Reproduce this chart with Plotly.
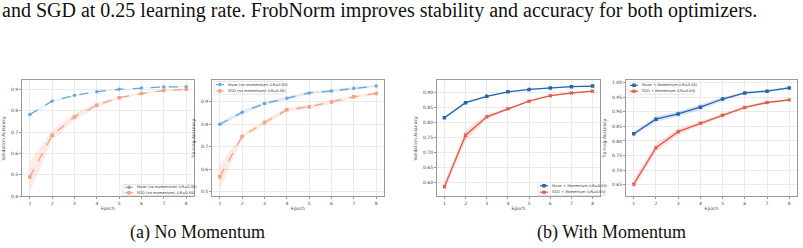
import plotly.graph_objects as go

W, H = 803, 248

epochs = [1, 2, 3, 4, 5, 6, 7, 8]

# (a) No momentum - validation
muon_val_nm = [0.782, 0.845, 0.872, 0.889, 0.900, 0.906, 0.911, 0.912]
muon_val_nm_sd = [0.004, 0.003, 0.003, 0.002, 0.002, 0.002, 0.002, 0.002]
sgd_val_nm = [0.490, 0.685, 0.771, 0.826, 0.861, 0.880, 0.894, 0.900]
sgd_val_nm_sd = [0.072, 0.024, 0.016, 0.011, 0.006, 0.005, 0.004, 0.003]

# (a) No momentum - training
muon_tr_nm = [0.800, 0.853, 0.892, 0.916, 0.939, 0.948, 0.960, 0.970]
muon_tr_nm_sd = [0.008, 0.008, 0.007, 0.007, 0.006, 0.006, 0.005, 0.005]
sgd_tr_nm = [0.567, 0.746, 0.808, 0.864, 0.878, 0.899, 0.922, 0.937]
sgd_tr_nm_sd = [0.055, 0.008, 0.011, 0.009, 0.009, 0.010, 0.006, 0.006]

# (b) With momentum - validation
muon_val_m = [0.815, 0.865, 0.886, 0.901, 0.909, 0.914, 0.918, 0.920]
muon_val_m_sd = [0.005, 0.004, 0.003, 0.002, 0.002, 0.002, 0.002, 0.002]
sgd_val_m = [0.586, 0.757, 0.818, 0.845, 0.870, 0.888, 0.897, 0.903]
sgd_val_m_sd = [0.014, 0.018, 0.008, 0.004, 0.003, 0.003, 0.002, 0.002]

# (b) With momentum - training
muon_tr_m = [0.825, 0.875, 0.893, 0.916, 0.944, 0.965, 0.971, 0.982]
muon_tr_m_sd = [0.007, 0.010, 0.008, 0.010, 0.006, 0.005, 0.005, 0.004]
sgd_tr_m = [0.652, 0.777, 0.832, 0.861, 0.888, 0.915, 0.932, 0.941]
sgd_tr_m_sd = [0.016, 0.014, 0.011, 0.007, 0.006, 0.005, 0.004, 0.004]

yticks_a_val = [0.4, 0.5, 0.6, 0.7, 0.8, 0.9]
yticks_a_tr = [0.5, 0.6, 0.7, 0.8, 0.9]
yticks_b_val = [0.60, 0.65, 0.70, 0.75, 0.80, 0.85, 0.90]
yticks_b_tr = [0.65, 0.70, 0.75, 0.80, 0.85, 0.90, 0.95, 1.00]

names_nm = ["Muon (no momentum) (LR=0.05)", "SGD (no momentum) (LR=0.05)"]
names_m = ["Muon + Momentum (LR=0.05)", "SGD + Momentum (LR=0.05)"]

FONT = "DejaVu Sans"
TXT = "#444444"
GRID = "#ebebeb"
SPINE = "#9a9a9a"

# panel boxes in pixels: (x0, x1, y0_top, y1_bottom)
panels = [
    (22, 194, 81, 198),
    (212, 384, 81, 198),
    (437, 600, 81, 198),
    (626, 797, 81, 198),
]
yranges = [[0.399, 0.942], [0.48, 0.995], [0.554, 0.939], [0.610, 1.008]]
ytickvals = [yticks_a_val, yticks_a_tr, yticks_b_val, yticks_b_tr]
ytitles = ["Validation Accuracy", "Training Accuracy", "Validation Accuracy", "Training Accuracy"]
ytickfmt = [".1f", ".1f", ".2f", ".2f"]

series = [
    [(muon_val_nm, muon_val_nm_sd), (sgd_val_nm, sgd_val_nm_sd)],
    [(muon_tr_nm, muon_tr_nm_sd), (sgd_tr_nm, sgd_tr_nm_sd)],
    [(muon_val_m, muon_val_m_sd), (sgd_val_m, sgd_val_m_sd)],
    [(muon_tr_m, muon_tr_m_sd), (sgd_tr_m, sgd_tr_m_sd)],
]
colors_nm = ["#6aa6d8", "#f5a184"]
colors_m = ["#2566b0", "#df5a48"]
fills_nm = ["rgba(106,166,216,0.22)", "rgba(245,161,132,0.20)"]
fills_m = ["rgba(37,102,176,0.18)", "rgba(223,90,72,0.18)"]

fig = go.Figure()
layout = {}

for i, (x0, x1, yt, yb) in enumerate(panels):
    k = "" if i == 0 else str(i + 1)
    xa, ya = "x" + k, "y" + k
    nm = i < 2
    cols = colors_nm if nm else colors_m
    fills = fills_nm if nm else fills_m
    names = names_nm if nm else names_m
    symbols = ["circle", "square"] if nm else ["square", "x"]
    dash = "dash" if nm else "solid"
    for j, (vals, sd) in enumerate(series[i]):
        lo = [v - s for v, s in zip(vals, sd)]
        hi = [v + s for v, s in zip(vals, sd)]
        fig.add_trace(go.Scatter(x=epochs, y=lo, xaxis=xa, yaxis=ya, mode="lines",
                                 line=dict(width=0), showlegend=False, hoverinfo="skip"))
        fig.add_trace(go.Scatter(x=epochs, y=hi, xaxis=xa, yaxis=ya, mode="lines",
                                 line=dict(width=0), fill="tonexty", fillcolor=fills[j],
                                 showlegend=False, hoverinfo="skip"))
    for j, (vals, sd) in enumerate(series[i]):
        fig.add_trace(go.Scatter(x=epochs, y=vals, xaxis=xa, yaxis=ya, mode="lines+markers",
                                 name=names[j],
                                 line=dict(color=cols[j], width=1.3, dash=dash),
                                 marker=dict(color=cols[j], size=3.5, symbol=symbols[j]),
                                 showlegend=False))
    layout["xaxis" + k] = dict(
        domain=[x0 / W, x1 / W], range=[0.65, 8.35], anchor=ya,
        tickvals=epochs, ticks="outside", ticklen=2, tickcolor=SPINE,
        tickfont=dict(family=FONT, size=4.5, color=TXT),
        showgrid=True, gridcolor=GRID, gridwidth=0.6, zeroline=False,
        showline=True, linecolor=SPINE, linewidth=1, mirror=True,
        title=dict(text="Epoch", font=dict(family=FONT, size=4.5, color=TXT), standoff=2),
    )
    layout["yaxis" + k] = dict(
        domain=[1 - yb / H, 1 - yt / H], range=yranges[i], anchor=xa,
        tickvals=ytickvals[i], tickformat=ytickfmt[i], ticks="outside", ticklen=2,
        tickcolor=SPINE, tickfont=dict(family=FONT, size=4.5, color=TXT),
        showgrid=True, gridcolor=GRID, gridwidth=0.6, zeroline=False,
        showline=True, linecolor=SPINE, linewidth=1, mirror=True,
        title=dict(text=ytitles[i], font=dict(family=FONT, size=4.5, color=TXT), standoff=5),
    )

# legends: boxes + sample lines as shapes, markers on an invisible full-page overlay axis
legend_boxes = [
    (123, 193, 186, 197, 0),
    (214, 283, 82, 95, 1),
    (538, 605, 184, 197, 2),
    (628, 694, 83, 95, 3),
]
shapes = []
annotations = []
for (lx0, lx1, ly0, ly1, i) in legend_boxes:
    nm = i < 2
    cols = colors_nm if nm else colors_m
    names = names_nm if nm else names_m
    symbols = ["circle", "square"] if nm else ["square", "x"]
    shapes.append(dict(type="rect", xref="paper", yref="paper",
                       x0=lx0 / W, x1=lx1 / W, y0=1 - ly1 / H, y1=1 - ly0 / H,
                       line=dict(color="#d5d5d5", width=0.6), fillcolor="rgba(255,255,255,0.85)",
                       layer="below"))
    rowh = (ly1 - ly0) / 2
    for j in range(2):
        cy = ly0 + rowh * (j + 0.5)
        shapes.append(dict(type="line", xref="paper", yref="paper",
                           x0=(lx0 + 2) / W, x1=(lx0 + 10) / W, y0=1 - cy / H, y1=1 - cy / H,
                           line=dict(color=cols[j], width=1.2, dash="dot" if nm else "solid"),
                           layer="above"))
        annotations.append(dict(xref="paper", yref="paper", x=(lx0 + 12) / W, y=1 - cy / H,
                                text=names[j], showarrow=False, xanchor="left", yanchor="middle",
                                font=dict(family=FONT, size=3.6, color="#333333")))
        fig.add_trace(go.Scatter(x=[(lx0 + 6) / W], y=[1 - cy / H], xaxis="x5", yaxis="y5",
                                 mode="markers", showlegend=False, hoverinfo="skip",
                                 marker=dict(color=cols[j], size=3.5, symbol=symbols[j])))

layout["xaxis5"] = dict(domain=[0, 1], range=[0, 1], visible=False, fixedrange=True, anchor="y5")
layout["yaxis5"] = dict(domain=[0, 1], range=[0, 1], visible=False, anchor="x5", fixedrange=True)

SERIF = "Liberation Serif"
annotations.append(dict(xref="paper", yref="paper", x=0.0, y=1 - 11 / H, xanchor="left",
                        yanchor="middle", showarrow=False,
                        text="and SGD at 0.25 learning rate. FrobNorm improves stability and accuracy for both optimizers.",
                        font=dict(family=SERIF, size=20, color="#111111")))
annotations.append(dict(xref="paper", yref="paper", x=197 / W, y=1 - 234 / H, xanchor="center",
                        yanchor="middle", showarrow=False, text="(a) No Momentum",
                        font=dict(family=SERIF, size=18, color="#111111")))
annotations.append(dict(xref="paper", yref="paper", x=611 / W, y=1 - 234 / H, xanchor="center",
                        yanchor="middle", showarrow=False, text="(b) With Momentum",
                        font=dict(family=SERIF, size=18, color="#111111")))

fig.update_layout(
    width=W, height=H, margin=dict(l=0, r=0, t=0, b=0),
    paper_bgcolor="white", plot_bgcolor="rgba(0,0,0,0)",
    showlegend=False, shapes=shapes, annotations=annotations, **layout,
)

fig.write_html("out.html")
